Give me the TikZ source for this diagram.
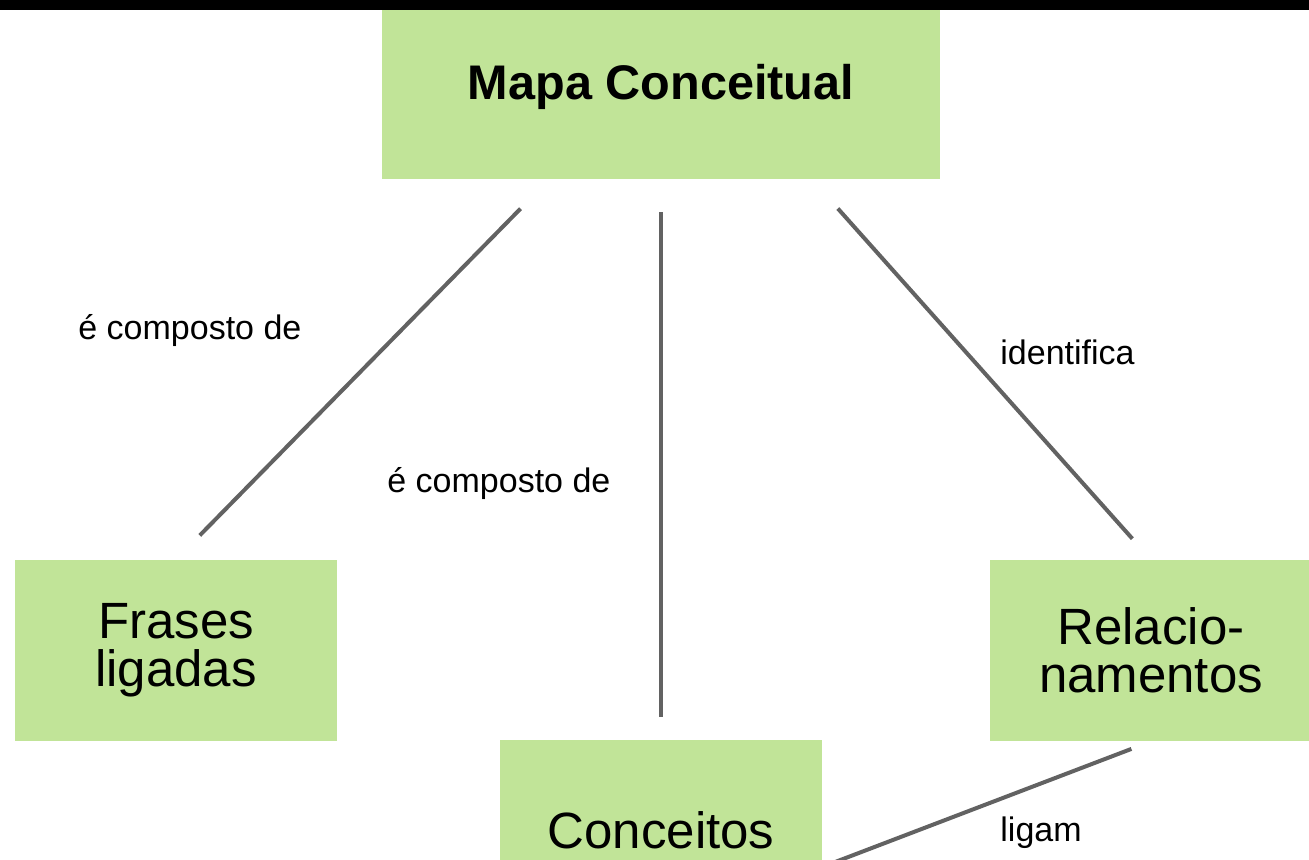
\documentclass[tikz,border=0pt]{standalone}
\usepackage{fontspec}
\setmainfont{Liberation Sans}
\usepackage{tikz}
\usetikzlibrary{calc}

\definecolor{boxgreen}{RGB}{193,228,152}
\definecolor{linkgray}{RGB}{98,98,98}

\tikzset{
    box/.style={fill=boxgreen, inner sep=0pt, minimum width=161pt, minimum height=90.5pt,
        align=center, font=\fontsize{25.5}{24}\selectfont},
    link/.style={draw=linkgray, line width=2pt},
    lbl/.style={anchor=west, inner sep=0pt, font=\fontsize{17}{20}\selectfont}
}

\begin{document}
\begin{tikzpicture}[x=0.5pt, y=-0.5pt]
    \clip (0,0) rectangle (1309,859);
    \useasboundingbox (0,0) rectangle (1309,859);

    % BOXES
    \node[box, minimum width=279pt, minimum height=84.5pt, font=\bfseries\fontsize{24.3}{28}\selectfont]
        (mapa) at (661,94.5) {\raisebox{3.75pt}[\height][\depth]{Mapa Conceitual}};
    \node[box] (frases) at (176,650.5) {Frases\\ligadas};
    \node[box] (conceitos) at (661,830.5) {Conceitos};
    \node[box] (relac) at (1151,650.5) {Relacio-\\namentos};

    % BAR ON TOP
    \fill[black] (0,0) rectangle (1309,10);

    % LINKS
    \draw[link, shorten <=20.5pt, shorten >=17pt]
        ($(mapa.south west)!0.3!(mapa.south east)$) -- (frases.north);
    \draw[link, shorten <=16.5pt, shorten >=11.5pt] (mapa.south) -- (conceitos.north);
    \draw[link, shorten <=19.5pt, shorten >=14pt]
        ($(mapa.south west)!0.77!(mapa.south east)$) -- (relac.north);
    \draw[link, shorten <=10.5pt, shorten >=7pt]
        (relac.south) -- ($(conceitos.east)!0.4!(conceitos.south east)$);

    % LABELS
    \foreach \n/\x/\y/\t in {compostoA/78/330/{é composto de},
                            compostoB/387/483/{é composto de},
                            identifica/1000/352/identifica,
                            ligam/1000/833/ligam}
        \node[lbl] (lbl-\n) at (\x,\y) {\t};
\end{tikzpicture}
\end{document}
